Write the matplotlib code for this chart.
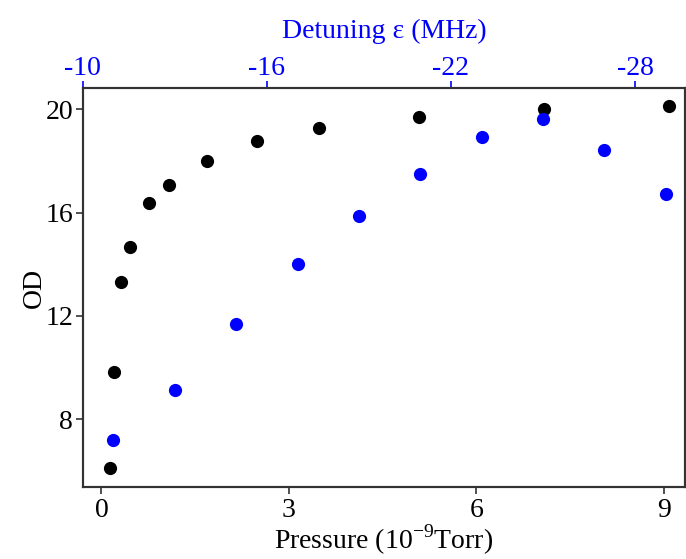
import matplotlib
matplotlib.use("Agg")
import matplotlib.pyplot as plt

plt.rcParams['font.family'] = ['Liberation Serif', 'DejaVu Serif']
plt.rcParams['mathtext.fontset'] = 'custom'
plt.rcParams['mathtext.rm'] = 'Liberation Serif'
plt.rcParams['axes.unicode_minus'] = False

# Black series: OD vs pressure (1e-9 Torr)
pressure = [0.14, 0.20, 0.32, 0.46, 0.76, 1.08, 1.69, 2.49, 3.48, 5.08, 7.08, 9.08]
od_pressure = [6.1, 9.83, 13.3, 14.67, 16.36, 17.07, 18.0, 18.77, 19.28, 19.71, 20.0, 20.13]

# Blue series: OD vs detuning (MHz)
detuning = [-11, -13, -15, -17, -19, -21, -23, -25, -27, -29]
od_detuning = [7.2, 9.13, 11.68, 14.02, 15.87, 17.5, 18.93, 19.62, 18.42, 16.72]

x_ticks = [0, 3, 6, 9]
top_ticks = [-10, -16, -22, -28]
y_ticks = [8, 12, 16, 20]

fig = plt.figure(figsize=(6.86, 5.59), dpi=100)
ax = fig.add_axes([0.1206, 0.1293, 0.8780, 0.7127])

spine_c = '#333333'
fs = 20

ax.plot(pressure, od_pressure, 'o', color='black', ms=9.5, mec='none')
ax.set_xlim(-0.30, 9.34)
ax.set_ylim(5.39, 20.81)
ax.set_xticks(x_ticks)
ax.set_yticks(y_ticks)
ax.tick_params(axis='both', labelsize=fs, direction='out', length=5, width=1.2, colors='black', pad=2)
ax.tick_params(axis='x', pad=3)
ax.tick_params(axis='both', color=spine_c)
ax.set_xlabel('Pressure (10$^{\\mathregular{-9}}$Torr)', fontsize=fs, labelpad=0)
ax.set_ylabel('OD', fontsize=fs, labelpad=-1)
for s in ax.spines.values():
    s.set_color(spine_c)
    s.set_linewidth(1.5)

ax2 = ax.twiny()
ax2.plot(detuning, od_detuning, 'o', color='blue', ms=9.5, mec='none')
ax2.set_xlim(-10, -29.63)
ax2.set_xticks(top_ticks)
ax2.tick_params(axis='x', labelsize=fs, direction='out', length=5, width=1.2,
                colors='blue', labelcolor='blue', pad=0)
ax2.set_xlabel('Detuning ε (MHz)', fontsize=fs, color='blue', labelpad=13)
for s in ax2.spines.values():
    s.set_color(spine_c)
    s.set_linewidth(1.5)

fig.savefig('out.png', dpi=100)
